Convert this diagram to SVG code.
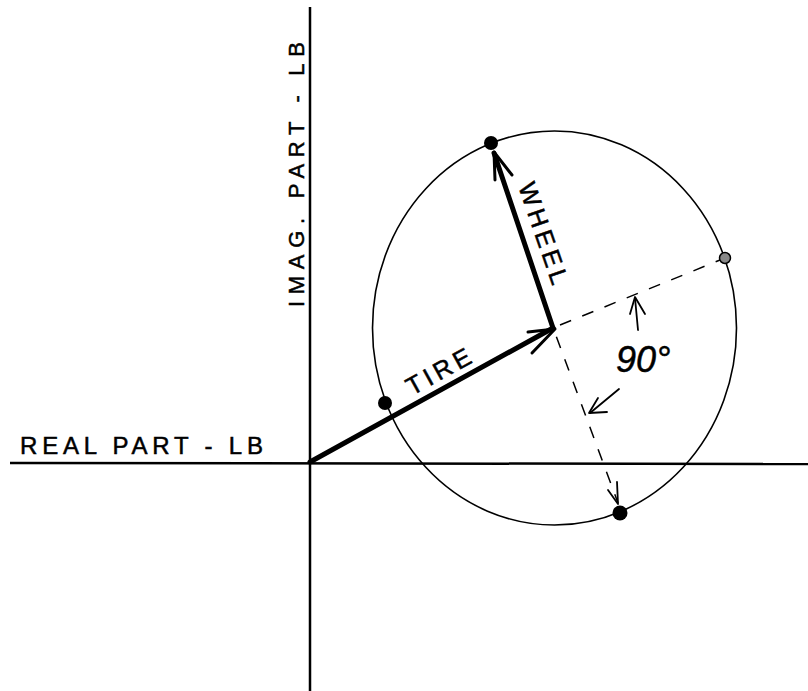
<svg xmlns="http://www.w3.org/2000/svg" width="808" height="691" viewBox="0 0 808 691">
<style>
.axis{stroke:#000;stroke-width:2.5;fill:none}
.circ{stroke:#000;stroke-width:1.6;fill:none}
.vec{stroke:#000;stroke-width:5;fill:none;stroke-linecap:round}
.head{stroke:#000;stroke-width:3;fill:none;stroke-linecap:round;stroke-linejoin:round}
.dash{stroke:#000;stroke-width:1.5;fill:none;stroke-dasharray:12 12}
.thin{stroke:#000;stroke-width:1.8;fill:none;stroke-linecap:round;stroke-linejoin:round}
.dot{fill:#000}
.lbl{font-family:"Liberation Sans","DejaVu Sans",sans-serif;fill:#000;stroke:#000;stroke-width:0.5}
</style>
<rect width="808" height="691" fill="#fff"/>
<g id="axes">
<line class="axis" x1="310" y1="7" x2="310" y2="691"/>
<line class="axis" x1="10" y1="463" x2="808" y2="464"/>
<text class="lbl" x="20" y="454" font-size="24" textLength="243" lengthAdjust="spacing">REAL PART - LB</text>
<text class="lbl" transform="translate(304,307) rotate(-90)" font-size="22" textLength="265" lengthAdjust="spacing">IMAG. PART - LB</text>
</g>
<g id="locus">
<ellipse class="circ" cx="554.5" cy="328" rx="182" ry="197"/>
</g>
<g id="connectors">
<line class="vec" x1="310" y1="462" x2="553" y2="328"/>
<polyline class="head" points="528,332 555,329 532,353"/>
<line class="vec" x1="553" y1="328" x2="494" y2="153"/>
<polyline class="head" points="495,180 494,152 512,175"/>
<line class="dash" x1="560" y1="325" x2="725" y2="258"/>
<line class="dash" x1="555" y1="333" x2="618" y2="503" stroke-dashoffset="-4"/>
<polyline class="thin" points="608,490 618,504 617,482"/>
<line class="thin" x1="638" y1="330" x2="635" y2="298"/>
<polyline class="thin" points="630,314 635,297 645,314"/>
<line class="thin" x1="619" y1="389" x2="590" y2="413"/>
<polyline class="thin" points="598,398 589,413 607,412"/>
</g>
<g id="dot-top"><circle class="dot" cx="491" cy="143" r="7"/></g>
<g id="dot-left"><circle class="dot" cx="385" cy="403" r="7"/></g>
<g id="dot-bottom"><circle class="dot" cx="620" cy="513" r="7.5"/></g>
<g id="dot-right"><circle cx="725" cy="258" r="5.5" fill="#888" stroke="#000" stroke-width="1.5"/></g>
<g id="labels">
<text class="lbl" transform="translate(412,396) rotate(-29)" font-size="25" textLength="70" lengthAdjust="spacing">TIRE</text>
<text class="lbl" transform="translate(518,186) rotate(71)" font-size="25" textLength="106" lengthAdjust="spacing">WHEEL</text>
<text class="lbl" x="616" y="372" font-size="36" font-style="italic">90°</text>
</g>
</svg>
